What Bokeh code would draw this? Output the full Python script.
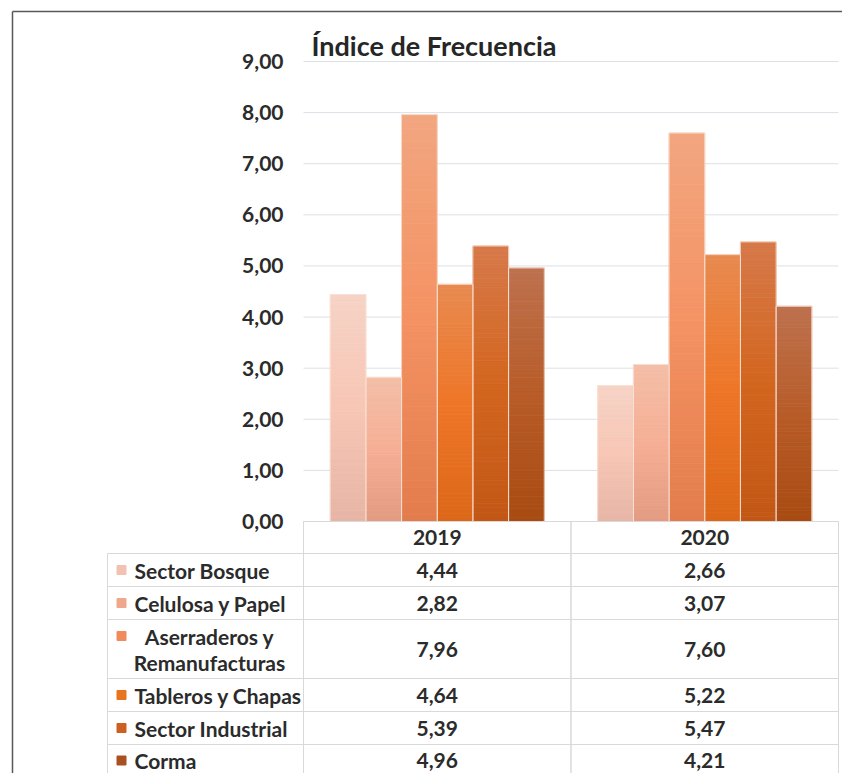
from bokeh.plotting import figure
from bokeh.models import Range1d, ColumnDataSource
from bokeh.embed import file_html
from bokeh.resources import INLINE
from bokeh.core.properties import value

# ---------------- data ----------------
TITLE = "Índice de Frecuencia"
YEARS = ["2019", "2020"]
SERIES = ["Sector Bosque", "Celulosa y Papel", "Aserraderos y Remanufacturas",
          "Tableros y Chapas", "Sector Industrial", "Corma"]
SERIES_LINES = [["Sector Bosque"], ["Celulosa y Papel"], ["Aserraderos y", "Remanufacturas"],
                ["Tableros y Chapas"], ["Sector Industrial"], ["Corma"]]
V2019 = [4.44, 2.82, 7.96, 4.64, 5.39, 4.96]
V2020 = [2.66, 3.07, 7.60, 5.22, 5.47, 4.21]
VALUES = {"2019": V2019, "2020": V2020}
Y_TICKS = [0, 1, 2, 3, 4, 5, 6, 7, 8, 9]

# ---------------- style ----------------
FONT = "Lato"
TXT = "#2b2b2b"
GRAD = [  # (top, middle, bottom) per series
    ("#F6D3C6", "#F7C6B5", "#E6B5A5"),
    ("#F4BEA7", "#F5AF95", "#E39B81"),
    ("#F2A680", "#F49263", "#E37C4C"),
    ("#E88A50", "#EE7628", "#DC6719"),
    ("#D6794A", "#D3661F", "#C25715"),
    ("#BD714E", "#B85C28", "#A84B12"),
]
LEGEND_COLORS = ["#F2C1B1", "#F0A88C", "#F08C5C", "#E8741F", "#CC6020", "#AA5020"]
GRID = "#DCE0E6"
TABLE_LINE = "#D9D9D9"
BORDER = "#585858"


def hx(c):
    return tuple(int(c[i:i + 2], 16) for i in (1, 3, 5))


def mix(a, b, t):
    a, b = hx(a), hx(b)
    return "#%02x%02x%02x" % tuple(round(a[i] + (b[i] - a[i]) * t) for i in range(3))


def grad_color(stops, f):
    top, mid, bot = stops
    if f < 0.5:
        return mix(bot, mid, f / 0.5)
    return mix(mid, top, (f - 0.5) / 0.5)


# ---------------- geometry (picture pixels) ----------------
W, H = 842, 773
ZERO_Y, TOP9_Y = 521, 61     # picture y of values 0 and 9
PX_Y = (ZERO_Y - TOP9_Y) / 9.0
PX_X = 267.5                 # px per year column
COL0 = 303                   # picture x of first year column edge


def gx(px):   # picture x -> data x
    return (px - COL0) / PX_X


def gy(py):   # picture y -> data y
    return (ZERO_Y - py) / PX_Y


p = figure(width=W, height=H, x_range=Range1d(gx(0), gx(W)), y_range=Range1d(gy(H), gy(0)),
           output_backend="svg", toolbar_location=None,
           x_axis_location=None, y_axis_location=None, min_border=0)
p.outline_line_color = None
p.grid.visible = False

# frame border of the original chart area
p.segment(x0=[gx(12), gx(12)], x1=[gx(W + 5), gx(12)], y0=[gy(11), gy(11)], y1=[gy(11), gy(H + 5)],
          line_color=BORDER, line_width=1.5)

# ---------------- gridlines + y labels ----------------
p.segment(x0=[0] * len(Y_TICKS), x1=[len(YEARS)] * len(Y_TICKS), y0=Y_TICKS, y1=Y_TICKS,
          line_color=GRID, line_width=1)
p.text(x=[gx(283)] * len(Y_TICKS), y=Y_TICKS,
       text=[("%.2f" % v).replace(".", ",") for v in Y_TICKS],
       text_align="right", text_baseline="middle",
       text_font=value(FONT), text_font_size="21px", text_font_style="bold", text_color=TXT)

# ---------------- bars (gradient by slices) ----------------
NB = len(SERIES)
BW = 0.8 / NB
N = 60
seg = dict(x=[], bottom=[], top=[], color=[])
full = dict(x=[], top=[])
for j, yname in enumerate(YEARS):
    for i in range(NB):
        v = VALUES[yname][i]
        xc = j + 0.5 + (i - (NB - 1) / 2) * BW
        full["x"].append(xc)
        full["top"].append(v)
        for k in range(N):
            seg["x"].append(xc)
            seg["bottom"].append(v * k / N)
            seg["top"].append(v * (k + 1) / N)
            seg["color"].append(grad_color(GRAD[i], (k + 0.5) / N))

p.vbar(x="x", bottom="bottom", top="top", width=BW, source=ColumnDataSource(seg),
       fill_color="color", line_color="color", line_width=0.8)
p.vbar(x="x", top="top", width=BW, source=ColumnDataSource(full),
       fill_color=None, line_color="#FBE3D8", line_width=1, line_alpha=0.8)

# ---------------- title ----------------
p.text(x=[gx(311)], y=[gy(45)], text=[TITLE], text_align="left", text_baseline="middle",
       text_font=value(FONT), text_font_size="27px", text_font_style="bold", text_color="#262626")

# ---------------- data table ----------------
ROW_PX = [32, 33, 33, 59, 33, 33, 32]   # row heights in px
edges_px = [ZERO_Y]
for h in ROW_PX:
    edges_px.append(edges_px[-1] + h)
edges = [gy(e) for e in edges_px]
LEG_X = gx(107)

cells = dict(left=[], right=[], top=[], bottom=[])
for j in range(len(YEARS)):
    cells["left"].append(j); cells["right"].append(j + 1)
    cells["top"].append(edges[0]); cells["bottom"].append(edges[1])
for r in range(NB):
    for (l, rr) in [(LEG_X, 0)] + [(j, j + 1) for j in range(len(YEARS))]:
        cells["left"].append(l); cells["right"].append(rr)
        cells["top"].append(edges[r + 1]); cells["bottom"].append(edges[r + 2])
p.quad(left="left", right="right", top="top", bottom="bottom", source=ColumnDataSource(cells),
       fill_color=None, line_color=TABLE_LINE, line_width=1)

TSTYLE = dict(text_font=value(FONT), text_font_size="21px", text_font_style="bold",
              text_color=TXT, text_baseline="middle")
p.text(x=[j + 0.5 for j in range(len(YEARS))], y=[(edges[0] + edges[1]) / 2] * len(YEARS),
       text=YEARS, text_align="center", **TSTYLE)

vx, vy, vt = [], [], []
for r in range(NB):
    cy = (edges[r + 1] + edges[r + 2]) / 2
    for j, yname in enumerate(YEARS):
        vx.append(j + 0.5); vy.append(cy)
        vt.append(("%.2f" % VALUES[yname][r]).replace(".", ","))
p.text(x=vx, y=vy, text=vt, text_align="center", **TSTYLE)

MK_X, LBL_X, LBL_C = gx(121), gx(134), gx(209)
LINE_GAP = 26 / PX_Y
mk = dict(x=[], y=[], c=[])
lx, ly, lt, la = [], [], [], []
for r, lines in enumerate(SERIES_LINES):
    cy = (edges[r + 1] + edges[r + 2]) / 2
    if len(lines) == 1:
        mk["x"].append(MK_X); mk["y"].append(cy); mk["c"].append(LEGEND_COLORS[r])
        lx.append(LBL_X); ly.append(cy); lt.append(lines[0]); la.append("left")
    else:
        n = len(lines)
        ys = [cy + LINE_GAP * ((n - 1) / 2 - k) for k in range(n)]
        mk["x"].append(MK_X); mk["y"].append(ys[0]); mk["c"].append(LEGEND_COLORS[r])
        for k, ln in enumerate(lines):
            lx.append(LBL_C); ly.append(ys[k]); lt.append(ln); la.append("center")
p.scatter(x="x", y="y", color="c", marker="square", size=9, source=ColumnDataSource(mk))
p.text(x="x", y="y", text="t", text_align="a", source=ColumnDataSource(dict(x=lx, y=ly, t=lt, a=la)),
       **TSTYLE)

open("out.html", "w").write(file_html(p, INLINE))
